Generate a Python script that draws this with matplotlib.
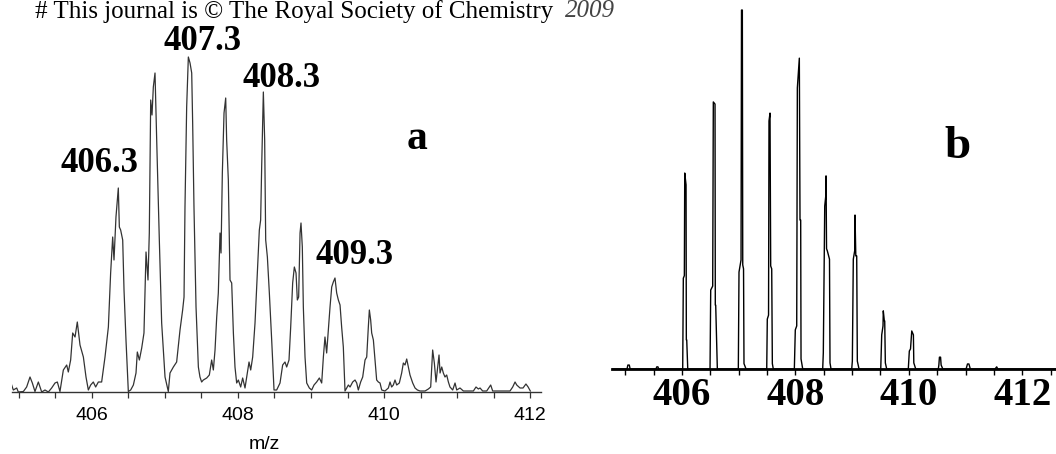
import matplotlib.pyplot as plt
from matplotlib.ticker import MultipleLocator
import numpy as np

exp_mz = [404.905, 404.928, 404.974, 404.996, 405.065, 405.110, 405.156, 405.188, 405.224, 405.270,
          405.316, 405.361, 405.407, 405.452, 405.498, 405.530, 405.566, 405.612, 405.658, 405.680,
          405.712, 405.740, 405.772, 405.803, 405.840, 405.886, 405.922, 405.954, 405.986, 406.022,
          406.054, 406.091, 406.136, 406.182, 406.228, 406.259, 406.287, 406.305, 406.332, 406.364,
          406.378, 406.396, 406.424, 406.442, 406.469, 406.501, 406.533, 406.570, 406.606, 406.624,
          406.652, 406.684, 406.715, 406.743, 406.770, 406.788, 406.807, 406.825, 406.843, 406.866,
          406.889, 406.925, 406.957, 407.003, 407.048, 407.071, 407.117, 407.162, 407.208, 407.244,
          407.263, 407.276, 407.299, 407.322, 407.345, 407.368, 407.381, 407.399, 407.427, 407.459,
          407.481, 407.504, 407.527, 407.573, 407.609, 407.641, 407.664, 407.687, 407.710, 407.732,
          407.755, 407.769, 407.787, 407.810, 407.833, 407.846, 407.869, 407.892, 407.915, 407.938,
          407.960, 407.983, 408.006, 408.038, 408.065, 408.097, 408.129, 408.152, 408.175, 408.202,
          408.234, 408.266, 408.293, 408.311, 408.325, 408.348, 408.366, 408.380, 408.403, 408.430,
          408.462, 408.494, 408.530, 408.576, 408.612, 408.644, 408.667, 408.699, 408.722, 408.749,
          408.772, 408.795, 408.813, 408.831, 408.850, 408.863, 408.881, 408.895, 408.918, 408.941,
          408.977, 409.009, 409.041, 409.077, 409.114, 409.146, 409.169, 409.191, 409.214, 409.237,
          409.260, 409.283, 409.305, 409.328, 409.351, 409.374, 409.397, 409.419, 409.442, 409.465,
          409.511, 409.534, 409.570, 409.602, 409.625, 409.647, 409.679, 409.707, 409.739, 409.762,
          409.784, 409.798, 409.816, 409.830, 409.853, 409.876, 409.898, 409.921, 409.944, 409.967,
          410.012, 410.058, 410.081, 410.103, 410.126, 410.149, 410.172, 410.208, 410.240, 410.263,
          410.286, 410.309, 410.332, 410.354, 410.391, 410.423, 410.455, 410.491, 410.560, 410.605,
          410.637, 410.664, 410.687, 410.710, 410.733, 410.751, 410.765, 410.788, 410.810, 410.833,
          410.856, 410.879, 410.901, 410.938, 410.970, 410.993, 411.038, 411.084, 411.130, 411.221,
          411.257, 411.289, 411.312, 411.348, 411.403, 411.458, 411.485, 411.540, 411.722, 411.759,
          411.791, 411.814, 411.859, 411.900, 411.940, 411.970, 412.000]
exp_int = [7, 2, 4, 0, 0.5, 5, 15, 9, 0.5, 10,
           0, 2, 0, 4, 9, 10, 0.5, 22, 27, 20,
           32, 59, 55, 70, 47, 35, 15, 2, 7, 10,
           5, 10, 10, 35, 65, 119, 155, 132, 175, 204,
           165, 162, 152, 102, 52, 0.5, 2, 7, 19, 40,
           32, 44, 59, 140, 112, 159, 292, 277, 305, 319,
           252, 152, 69, 15, 0.5, 19, 25, 30, 62, 82,
           95, 185, 285, 335, 329, 319, 269, 185, 85, 25,
           15, 10, 12, 14, 17, 32, 22, 42, 75, 99,
           159, 139, 219, 279, 294, 252, 212, 112, 109, 59,
           25, 9, 12, 5, 14, 4, 19, 30, 22, 35,
           69, 119, 162, 172, 225, 300, 252, 152, 135, 99,
           52, 2, 2, 9, 27, 30, 25, 32, 65, 109,
           125, 119, 92, 95, 159, 169, 145, 85, 35, 9,
           4, 2, 7, 10, 14, 9, 35, 55, 39, 62,
           85, 105, 110, 114, 99, 92, 87, 65, 45, 1,
           7, 5, 10, 12, 9, 2, 10, 15, 32, 35,
           65, 82, 72, 59, 52, 32, 12, 10, 9, 2,
           1, 4, 10, 5, 7, 12, 7, 9, 19, 29,
           27, 33, 25, 17, 9, 4, 2, 1, 1, 3,
           5, 42, 29, 10, 25, 37, 19, 25, 19, 15,
           17, 10, 5, 2, 9, 2, 4, 1, 1, 1,
           5, 3, 4, 1, 1, 7, 1, 1, 1, 5,
           10, 7, 4, 4, 8, 5, 1]

exp_labels = ['406.3', '407.3', '408.3', '409.3']
exp_label_mz = [406.10, 407.52, 408.60, 409.60]
exp_label_int = [228, 351, 314, 137]

# (b) simulated isotope pattern (m/z, relative intensity %)
sim_mz = [404.77, 405.03, 405.045, 405.07, 405.085, 405.54, 405.555, 405.575, 405.59,
          406.012, 406.023, 406.041, 406.048, 406.071, 406.076, 406.083, 406.101,
          406.494, 406.506, 406.541, 406.552, 406.582, 406.587, 406.594, 406.623,
          406.993, 407.005, 407.041, 407.049, 407.064, 407.071, 407.085, 407.093, 407.129,
          407.494, 407.504, 407.526, 407.534, 407.552, 407.564, 407.582, 407.593, 407.610,
          407.981, 407.998, 408.023, 408.034, 408.069, 408.081, 408.093, 408.099, 408.129,
          408.481, 408.492, 408.517, 408.534, 408.540, 408.549, 408.563, 408.601, 408.610, 408.628,
          408.993, 409.004, 409.021, 409.046, 409.051, 409.065, 409.081, 409.092, 409.122,
          409.505, 409.522, 409.545, 409.550, 409.568, 409.575, 409.586, 409.610,
          409.991, 410.009, 410.030, 410.052, 410.081, 410.088, 410.122,
          410.52, 410.53, 410.54, 410.56, 410.57, 410.60,
          411.01, 411.035, 411.06, 411.085,
          411.52, 411.55, 411.57, 412.60]
sim_int = [0, 0, 1.1, 1.1, 0, 0, 0.6, 0.6, 0,
           0, 25.3, 26, 54.6, 51.3, 8.1, 8.1, 0,
           0, 22.0, 23.1, 74.4, 73.8, 17.8, 17.8, 0,
           0, 27.0, 30.4, 100, 100, 29.0, 27.9, 1.5, 0,
           0, 13.9, 15.0, 69.1, 71.3, 28.7, 27.9, 1.5, 0,
           0, 10.9, 12.0, 78.3, 86.6, 41.5, 41.5, 2.8, 0,
           0, 4.5, 45.4, 48.0, 53.8, 33.5, 32.9, 30.6, 1.7, 0,
           0, 2.2, 30.6, 33.0, 42.9, 31.5, 31.5, 2.2, 0,
           0, 9.5, 12.0, 16.2, 13.4, 13.4, 1.7, 0,
           0, 5.0, 5.6, 10.6, 9.5, 1.7, 0,
           0, 1.1, 3.3, 3.3, 1.1, 0,
           0, 1.4, 1.4, 0,
           0, 0.6, 0, 0]

fig = plt.figure(figsize=(10.56, 4.54), dpi=100)

# ---- panel a ----
ax1 = fig.add_axes([11.8 / 1056, 62 / 454, 529.2 / 1056, 392 / 454])
ax1.plot(exp_mz, exp_int, color='#333333', lw=0.9)
ax1.set_xlim(404.907, 412.146)
ax1.set_ylim(0, 392)
for s in ['top', 'right', 'left']:
    ax1.spines[s].set_visible(False)
ax1.spines['bottom'].set_color('#333333')
ax1.spines['bottom'].set_linewidth(1.0)
ax1.set_yticks([])
ax1.xaxis.set_major_locator(MultipleLocator(2))
ax1.xaxis.set_minor_locator(MultipleLocator(0.5))
ax1.tick_params(axis='x', which='both', direction='out', length=4, width=0.9, color='#333333')
ax1.tick_params(axis='x', which='major', pad=7, labelsize=14)
for t in ax1.get_xticklabels():
    t.set_family('Liberation Sans')
for lab, x, y in zip(exp_labels, exp_label_mz, exp_label_int):
    ax1.text(x, y, lab, ha='center', va='center', family='Liberation Serif',
             fontweight='bold', fontsize=25)
ax1.text(410.45, 253, 'a', ha='center', va='center', family='Liberation Serif',
         fontweight='bold', fontsize=30)
fig.text(264 / 1056, 1 - 444.5 / 454, 'm/z', ha='center', va='center',
         family='Liberation Sans', fontsize=14)

# ---- panel b ----
ax2 = fig.add_axes([612 / 1056, 85 / 454, 444 / 1056, 369 / 454])
ax2.plot(sim_mz, sim_int, color='black', lw=1.0)
ax2.set_xlim(404.765, 412.596)
ax2.set_ylim(0, 102.8)
for s in ['top', 'right', 'left']:
    ax2.spines[s].set_visible(False)
ax2.spines['bottom'].set_linewidth(2.0)
ax2.set_yticks([])
ax2.xaxis.set_major_locator(MultipleLocator(2))
ax2.xaxis.set_minor_locator(MultipleLocator(0.5))
ax2.tick_params(axis='x', which='both', direction='out', length=4, width=1.0)
ax2.tick_params(axis='x', which='major', pad=2, labelsize=28)
for t in ax2.get_xticklabels():
    t.set_family('Liberation Serif')
    t.set_fontweight('bold')
ax2.text(410.85, 61.8, 'b', ha='center', va='center', family='Liberation Serif',
         fontweight='bold', fontsize=34)

# journal header along the top edge
fig.text(35 / 1056, 0.999, '# This journal is \u00a9 The Royal Society of Chemistry',
         ha='left', va='top', family='Liberation Serif', fontsize=18)
fig.text(565 / 1056, 0.999, '2009', ha='left', va='top',
         family='Liberation Serif', style='italic', fontsize=18, color='#444444')

fig.savefig('out.png', dpi=100)
